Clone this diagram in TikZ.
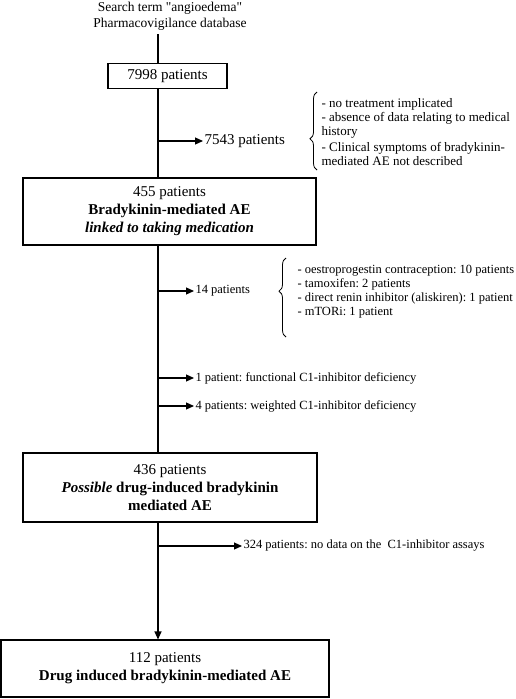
\documentclass[tikz,border=0pt]{standalone}
\usepackage{fontspec}
\setmainfont{Liberation Serif}
\usetikzlibrary{arrows.meta,decorations.pathreplacing}
\frenchspacing

\begin{document}
\begin{tikzpicture}[x=1pt,y=-1pt,line width=1.1pt,
  box/.style={draw,align=center,inner sep=0pt,font=\fontsize{15}{18}\selectfont},
  big/.style={anchor=west,inner sep=1pt,font=\fontsize{15}{18}\selectfont},
  small/.style={anchor=west,inner sep=1pt,align=left,font=\fontsize{12.5}{14}\selectfont},
  arr/.style={-{Triangle[length=8pt,width=7pt]}},
  brc/.style={decorate,decoration={brace,amplitude=7pt,aspect=#1},line width=0.8pt}]

\useasboundingbox (0,0) rectangle (516,699);

% Search in the database
\node[align=center,font=\fontsize{13.5}{16}\selectfont] (src) at (170,16) {Search term \textquotedbl angioedema\textquotedbl\\Pharmacovigilance database};
\coordinate (top) at (158,34);

\node[box,minimum width=119,minimum height=25] (b7998) at (167.5,76) {7998 patients};
\node[box,minimum width=293,minimum height=67] (b455) at (169.5,211.5) {455 patients\\\textbf{Bradykinin-mediated AE}\\\textbf{\textit{linked to taking medication}}};
\node[box,minimum width=294,minimum height=69] (b436) at (170,487.5) {436 patients\\\textbf{\textit{Possible}} \textbf{drug-induced bradykinin}\\\textbf{mediated AE}};
\node[box,minimum width=328,minimum height=57] (b112) at (165,668.5) {112 patients\\\textbf{Drug induced bradykinin-mediated AE}};

 \draw (top) -- (top |- b7998.north);
 \draw (top |- b7998.south) -- (top |- b455.north);
 \draw (top |- b455.south) -- (top |- b436.north);
 \draw[arr] (top |- b436.south) -- (top |- b112.north);

% Excluded after the search
\node[big] (n7543) at (203,141) {7543 patients};
 \draw[arr] (top |- n7543) -- (n7543.west);
\node[small,anchor=north west,font=\fontsize{13}{14}\selectfont] (l7543) at (320,97) {- no treatment implicated\\- absence of data relating to medical\\history\\[2pt]- Clinical symptoms of bradykinin-\\mediated AE not described};
 \draw[brc=0.4] (317,170) -- (317,92);

% Excluded before C1-inhibitor check
\node[small] (n14) at (194,291) {14 patients};
 \draw[arr] (top |- n14) -- (n14.west);
\node[small,anchor=north west] (l14) at (296,264) {- oestroprogestin contraception: 10 patients\\- tamoxifen: 2 patients\\- direct renin inhibitor (aliskiren): 1 patient\\- mTORi: 1 patient};
 \draw[brc=0.58] (286,337) -- (286,258);

\node[small] (n1) at (194,378) {1 patient: functional C1-inhibitor deficiency};
 \draw[arr] (top |- n1) -- (n1.west);
\node[small] (n4) at (194,406) {4 patients: weighted C1-inhibitor deficiency};
 \draw[arr] (top |- n4) -- (n4.west);

\node[small] (n324) at (242,546) {324 patients: no data on the~ C1-inhibitor assays};
 \draw[arr] (top |- n324) -- (n324.west);

\end{tikzpicture}
\end{document}
